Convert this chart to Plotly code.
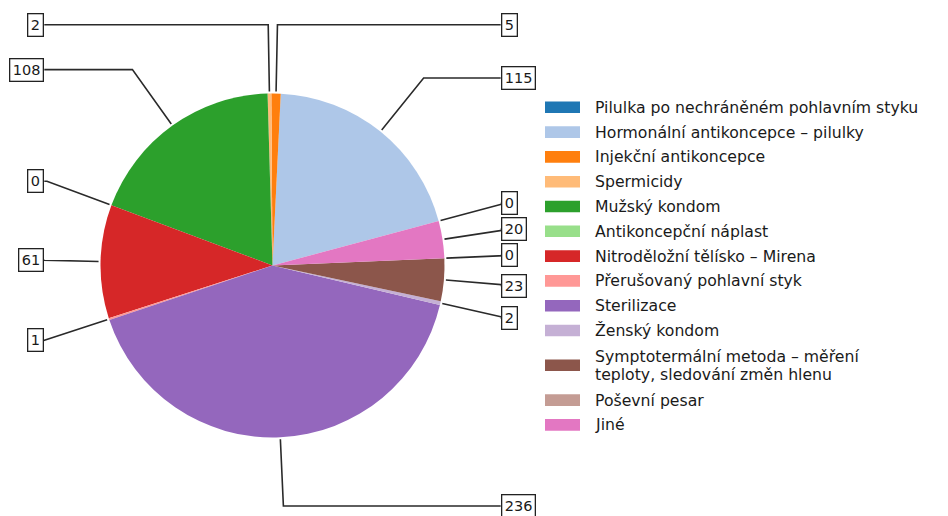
import numpy as np
import plotly.graph_objects as go

# ---------------- data ----------------
labels = [
    "Pilulka po nechráněném pohlavním styku",
    "Hormonální antikoncepce – pilulky",
    "Injekční antikoncepce",
    "Spermicidy",
    "Mužský kondom",
    "Antikoncepční náplast",
    "Nitroděložní tělísko – Mirena",
    "Přerušovaný pohlavní styk",
    "Sterilizace",
    "Ženský kondom",
    "Symptotermální metoda – měření\nteploty, sledování změn hlenu",
    "Poševní pesar",
    "Jiné",
]
values = [0, 115, 5, 2, 108, 0, 61, 1, 236, 2, 23, 0, 20]
colors = ["#1f77b4", "#aec7e8", "#ff7f0e", "#ffbb78", "#2ca02c", "#98df8a",
          "#d62728", "#ff9896", "#9467bd", "#c5b0d5", "#8c564b", "#c49c94",
          "#e377c2"]
START_ANGLE = 15  # degrees, counter-clockwise from 3 o'clock

# ---------------- layout constants (pixels, window coordinates) ----------------
W, H = 948, 516
OFF = 8  # default page margin around the plot div
CX, CY, R = 272.5, 265.5, 172.0
FONT = "DejaVu Sans"

fig = go.Figure()

# pie domain expressed in div coordinates (window minus page offset)
dcx, dcy = CX - OFF, CY - OFF
fig.add_trace(go.Pie(
    labels=[l.replace("\n", " ") for l in labels],
    values=values,
    sort=False,
    direction="counterclockwise",
    rotation=90 - START_ANGLE,
    marker=dict(colors=colors, line=dict(width=0)),
    textinfo="none",
    hoverinfo="label+value",
    showlegend=False,
    domain=dict(x=[(dcx - R) / W, (dcx + R) / W],
                y=[(H - dcy - R) / H, (H - dcy + R) / H]),
))

# ---------------- annotation leader lines & boxes ----------------
vals = np.array(values, dtype=float)
total = vals.sum()
cum_before = np.concatenate([[0], np.cumsum(vals)[:-1]])
mid_deg = START_ANGLE + (cum_before + vals / 2) / total * 360.0
mid = np.deg2rad(mid_deg)

lx, ly = [], []
annotations = []
PAD = 4
for i, a in enumerate(mid):
    c, s = np.cos(a), np.sin(a)
    sgn = 1 if c >= 0 else -1
    px, py = CX + (R + 2) * c, CY - (R + 2) * s
    qx, qy = CX + 1.4 * R * c, CY - 1.4 * R * s
    ex = CX + sgn * (1.35 * R - PAD)
    lx += [px, qx, ex, None]
    ly += [py, qy, qy, None]
    annotations.append(dict(
        x=ex, y=qy, xref="x", yref="y",
        text=str(values[i]), showarrow=False,
        xanchor="left" if sgn > 0 else "right", yanchor="middle",
        font=dict(family=FONT, size=14.5, color="#1a1a1a"),
        bgcolor="white", bordercolor="#222", borderwidth=1.3, borderpad=2.5,
    ))

fig.add_trace(go.Scatter(
    x=lx, y=ly, mode="lines", line=dict(color="#2a2a2a", width=1.6),
    hoverinfo="skip", showlegend=False, xaxis="x", yaxis="y",
))

# ---------------- legend (drawn manually) ----------------
shapes = []
LEG_X0, LEG_X1, LEG_TX = 545, 580, 593
ROW, EXTRA, LINE = 24.8, 20.0, 17.5
y_center = 107.3
prev_h = None
for i, lab in enumerate(labels):
    lines = lab.split("\n")
    h = ROW + (len(lines) - 1) * EXTRA
    if prev_h is not None:
        y_center += prev_h / 2 + h / 2
    prev_h = h
    shapes.append(dict(type="rect", xref="x", yref="y",
                       x0=LEG_X0, x1=LEG_X1, y0=y_center - 5.8, y1=y_center + 5.8,
                       fillcolor=colors[i], line=dict(width=0)))
    n = len(lines)
    for k, t in enumerate(lines):
        yy = y_center + (k - (n - 1) / 2) * LINE
        annotations.append(dict(
            x=LEG_TX, y=yy, xref="x", yref="y", text=t, showarrow=False,
            xanchor="left", yanchor="middle",
            font=dict(family=FONT, size=15.7, color="#1a1a1a"),
        ))

fig.update_layout(
    width=W, height=H,
    margin=dict(l=0, r=0, t=0, b=0),
    paper_bgcolor="white", plot_bgcolor="white",
    # axes map window pixels (the div sits OFF pixels in from the window corner)
    xaxis=dict(range=[OFF, W + OFF], domain=[0, 1], visible=False, fixedrange=True),
    yaxis=dict(range=[H + OFF, OFF], domain=[0, 1], visible=False, fixedrange=True),
    annotations=annotations,
    shapes=shapes,
    showlegend=False,
)

fig.write_html("out.html")
